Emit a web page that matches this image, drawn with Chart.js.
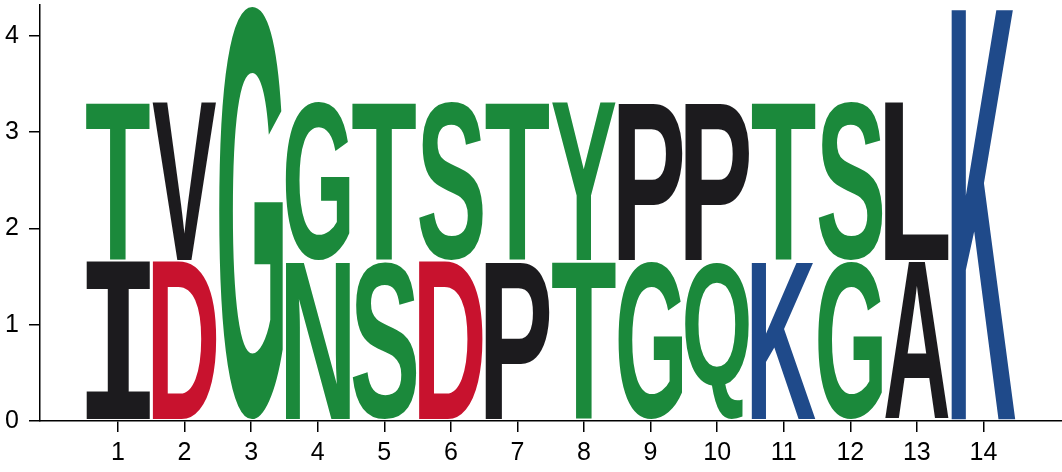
<!DOCTYPE html>
<html lang="en">

<head>
    <meta charset="UTF-8">
    <title>Sequence logo</title>
    <script src="https://cdn.jsdelivr.net/npm/chart.js"></script>
    <style>
        html, body { margin: 0; padding: 0; background: #fff; }
        #wrap { width: 1062px; height: 472px; }
    </style>
</head>

<body>
    <div id="wrap"><canvas id="logo"></canvas></div>

    <script>
        // positions along the sequence
        const positions = [1, 2, 3, 4, 5, 6, 7, 8, 9, 10, 11, 12, 13, 14];
        // letters in each column, lower one first
        const bottomLetters = ['I', 'D', 'G', 'N', 'S', 'D', 'P', 'T', 'G', 'Q', 'K', 'G', 'A', 'K'];
        const topLetters = ['T', 'V', '', 'G', 'T', 'S', 'T', 'Y', 'P', 'P', 'T', 'S', 'L', ''];
        // letter heights in bits
        const bottomBits = [1.66, 1.66, 4.32, 1.66, 1.66, 1.66, 1.66, 1.66, 1.66, 1.66, 1.66, 1.66, 1.66, 4.32];
        const topBits = [1.66, 1.66, 0, 1.66, 1.66, 1.66, 1.66, 1.66, 1.66, 1.66, 1.66, 1.66, 1.66, 0];
        const yTicks = [0, 1, 2, 3, 4];

        // chemistry colours
        const GREEN = '#1b893b', BLUE = '#1f4a8a', RED = '#c8122e', BLACK = '#1c1b1e';
        function letterColor(ch) {
            if ('GSTYCQN'.includes(ch)) return GREEN;
            if ('KRH'.includes(ch)) return BLUE;
            if ('DE'.includes(ch)) return RED;
            return BLACK;
        }

        // draws each letter stretched into its bar box
        const letterPlugin = {
            id: 'letters',
            afterDatasetsDraw(chart) {
                const ctx = chart.ctx;
                chart.data.datasets.forEach((ds, d) => {
                    const meta = chart.getDatasetMeta(d);
                    meta.data.forEach((bar, i) => {
                        const ch = ds.letters[i];
                        if (!ch) return;
                        const p = bar.getProps(['x', 'y', 'base', 'width'], true);
                        const x0 = p.x - p.width / 2;
                        const top = Math.min(p.y, p.base) + 1;
                        const bottom = Math.max(p.y, p.base) - 1;
                        const bw = p.width, bh = bottom - top;
                        if (bh <= 0) return;
                        ctx.save();
                        ctx.font = ch === 'I' ? 'bold 200px "DejaVu Sans Mono"' : 'bold 200px "Liberation Sans"';
                        ctx.textAlign = 'left';
                        ctx.textBaseline = 'alphabetic';
                        const m = ctx.measureText(ch);
                        const gw = m.actualBoundingBoxLeft + m.actualBoundingBoxRight;
                        const gh = m.actualBoundingBoxAscent + m.actualBoundingBoxDescent;
                        ctx.translate(x0, top);
                        ctx.scale(bw / gw, bh / gh);
                        ctx.fillStyle = letterColor(ch);
                        ctx.fillText(ch, m.actualBoundingBoxLeft, m.actualBoundingBoxAscent);
                        ctx.restore();
                    });
                });
            }
        };

        const ctx = document.getElementById('logo').getContext('2d');
        new Chart(ctx, {
            type: 'bar',
            data: {
                datasets: [
                    {
                        label: 'bottom',
                        letters: bottomLetters,
                        data: positions.map((p, i) => ({ x: p, y: bottomBits[i] })),
                        backgroundColor: 'rgba(0,0,0,0)'
                    },
                    {
                        label: 'top',
                        letters: topLetters,
                        data: positions.map((p, i) => ({ x: p, y: topBits[i] })),
                        backgroundColor: 'rgba(0,0,0,0)'
                    }
                ]
            },
            options: {
                responsive: true,
                maintainAspectRatio: false,
                animation: false,
                categoryPercentage: 1,
                barPercentage: 0.96,
                layout: { padding: { top: 5, right: 0, left: 0, bottom: 0 } },
                plugins: { legend: { display: false }, tooltip: { enabled: false } },
                scales: {
                    x: {
                        type: 'linear',
                        stacked: true,
                        offset: false,
                        min: -0.171,
                        max: 15.18,
                        afterBuildTicks: s => { s.ticks = positions.map(v => ({ value: v })); },
                        afterFit: s => { s.height = 51; s.paddingLeft = 0; s.paddingRight = 0; },
                        grid: { offset: false, drawOnChartArea: false, tickLength: 11, color: '#000', lineWidth: 1.5 },
                        border: { color: '#000', width: 1.5 },
                        ticks: {
                            color: '#000',
                            padding: 6,
                            maxRotation: 0,
                            autoSkip: false,
                            font: { family: '"Liberation Sans", Arial', size: 25 }
                        }
                    },
                    y: {
                        stacked: true,
                        min: 0,
                        max: 4.32,
                        afterBuildTicks: s => { s.ticks = yTicks.map(v => ({ value: v })); },
                        afterFit: s => { s.width = 40; s.paddingTop = 0; s.paddingBottom = 0; },
                        grid: { drawOnChartArea: false, tickLength: 11, color: '#000', lineWidth: 1.5 },
                        border: { color: '#000', width: 1.5 },
                        ticks: {
                            color: '#000',
                            padding: 10,
                            font: { family: '"Liberation Sans", Arial', size: 25 }
                        }
                    }
                }
            },
            plugins: [letterPlugin]
        });
    </script>
</body>

</html>
